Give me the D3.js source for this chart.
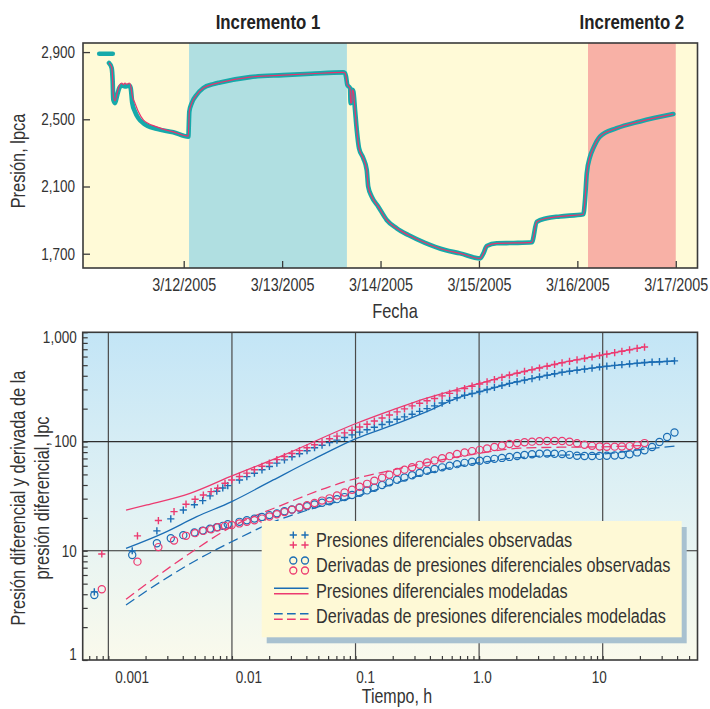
<!DOCTYPE html>
<html>
<head>
<meta charset="utf-8">
<script src="https://cdn.jsdelivr.net/npm/d3@7"></script>
<style>
  body { margin: 0; background: #fff; }
  svg text { font-family: "Liberation Sans", Arial, sans-serif; fill: #333; }
</style>
</head>
<body>
<div id="chart"></div>
<script>
// ---------- top chart: hours after 3/11/2005 00:00 vs pressure (lpca) ----------
var gaugeHours = [3.4, 6.7];
var gaugePsi = [2890, 2890];

var obsHours = [5.78, 6.44, 6.68, 6.83, 7.24, 7.8, 8.29, 8.88, 9.68, 10.73, 11.07, 11.46, 12.12, 12.93, 14.15, 17.41, 21.46, 25.12,
  25.37, 25.95, 27.17, 28.78, 31.22, 32.85, 40.17, 48.22, 55, 62.85, 63.34, 63.58, 63.9, 64.56, 64.7, 64.98, 65.1, 65.37,
  65.78, 66.2, 66.76, 67.8, 68.63, 69, 69.85, 71.46, 73.5, 75.95, 78.78, 82.85, 87.73, 91.4, 96.27, 97.1, 97.9, 100.34,
  104.5, 108.9, 110.1, 112.5, 115.8, 121.46, 121.87, 122.3, 123.1, 123.9, 125.5, 129.6, 135.3, 143.4];
var obsPsi = [2835, 2805, 2725, 2616, 2596, 2646, 2686, 2701, 2695, 2701, 2686, 2596, 2546, 2507, 2477, 2443, 2423, 2397,
  2546, 2596, 2646, 2686, 2709, 2719, 2751, 2763, 2771, 2779, 2775, 2755, 2705, 2686, 2596, 2600, 2675, 2665,
  2556, 2438, 2328, 2268, 2199, 2099, 2040, 1980, 1901, 1851, 1811, 1765, 1722, 1702, 1672, 1702, 1746, 1762,
  1764, 1768, 1890, 1911, 1922, 1935, 2020, 2179, 2278, 2328, 2397, 2447, 2487, 2531];

// model differs from the gauge only in the first drawdown
var modelHours = [5.78, 6.44, 6.68, 6.83, 7.24, 7.8, 8.29, 8.88, 9.3, 9.68, 10.1, 10.73, 11.07, 11.46, 12.12, 12.93, 14.15, 17.41, 21.46, 25.12];
var modelPsi = [2835, 2810, 2730, 2640, 2610, 2660, 2700, 2716, 2706, 2716, 2708, 2716, 2700, 2640, 2596, 2546, 2497, 2455, 2425, 2400];

var buildupNames = ["Incremento 1", "Incremento 2"];
var buildupStart = [25.3, 122.6];
var buildupEnd = [63.8, 144];

var dateTicks = ["2005-03-12", "2005-03-13", "2005-03-14", "2005-03-15", "2005-03-16", "2005-03-17"];
var psiTicks = [1700, 2100, 2500, 2900];

// ---------- bottom chart: time (h) vs differential pressure and derivative (lpc) ----------
// blue = Incremento 1, pink = Incremento 2
var t1 = [0.00077, 0.00156, 0.00247, 0.0032, 0.00404, 0.00497, 0.0058, 0.00665, 0.00754, 0.00843, 0.00925,
  0.0115, 0.0132, 0.0152, 0.0175, 0.0201, 0.0231, 0.0266, 0.0306, 0.0352, 0.0405, 0.0466, 0.0536, 0.0616, 0.0708, 0.0815,
  0.0937, 0.108, 0.124, 0.142, 0.164, 0.188, 0.217, 0.249, 0.287, 0.33, 0.379, 0.436, 0.502, 0.577, 0.663, 0.763, 0.877,
  1.01, 1.16, 1.33, 1.53, 1.76, 2.03, 2.33, 2.68, 3.08, 3.55, 4.08, 4.69, 5.39, 6.2, 7.13, 8.2, 9.43, 10.8, 12.5, 14.3,
  16.5, 19, 21.8, 25.1, 28.8, 33.2, 38.1];
var dp1 = [4.2, 10, 15.2, 19.6, 23.6, 26.4, 28.8, 31.8, 35.1, 37.6, 39.5,
  44.4, 47.7, 51.3, 55.1, 59.1, 63.5, 68, 72.5, 77.3, 82.3, 87.7, 92.5, 97.8, 103, 109,
  115, 122, 128, 135, 143, 151, 160, 168, 178, 189, 200, 212, 225, 238, 252, 265, 275,
  287, 299, 313, 326, 341, 353, 365, 377, 390, 404, 418, 431, 440, 450, 460, 470, 481, 490, 498, 506,
  514, 522, 529, 534, 538, 542, 547];
var der1 = [3.94, 9.16, 11.7, 13.0, 13.9, 14.7, 15.3, 15.9, 16.4, 16.9, 17.5,
  18.4, 19.0, 19.7, 20.4, 21.2, 22.0, 23.0, 23.9, 24.8, 25.6, 26.5, 27.5, 28.4, 29.7, 31.0,
  32.4, 33.9, 35.7, 37.8, 40.0, 42.3, 44.6, 46.8, 49.1, 51.6, 54.1, 56, 58, 60, 62.1, 63.8, 65.2,
  66.6, 68, 69.4, 70.8, 72.3, 73.8, 75.2, 76.6, 77.5, 77.6, 77.3, 76.7, 75.5, 74.2, 73.8, 73.8, 73.9, 74.1, 74.6, 75.2,
  76.5, 79.5, 83, 89, 99, 110, 121];

var t2 = [0.000885, 0.00172, 0.00254, 0.0034, 0.00425, 0.00503, 0.00587, 0.00678, 0.00767, 0.00879, 0.00996,
  0.0115, 0.0132, 0.0152, 0.0175, 0.0201, 0.0231, 0.0266, 0.0306, 0.0352, 0.0405, 0.0466, 0.0536, 0.0616, 0.0708, 0.0815,
  0.0937, 0.108, 0.124, 0.142, 0.164, 0.188, 0.217, 0.249, 0.287, 0.33, 0.379, 0.436, 0.502, 0.577, 0.663, 0.763, 0.877,
  1.01, 1.16, 1.33, 1.53, 1.76, 2.03, 2.33, 2.68, 3.08, 3.55, 4.08, 4.69, 5.39, 6.2, 7.13, 8.2, 9.43, 10.8, 12.5, 14.3,
  16.5, 19, 21.8];
var dp2 = [9.35, 13.7, 18.9, 22.8, 26.7, 29.6, 32.4, 34.8, 37.4, 41.5, 44.5,
  47.9, 51.4, 55.2, 59.3, 63.6, 68.3, 72.9, 77.6, 82.6, 87.7, 93.3, 99.3, 106, 112, 120,
  127, 136, 144, 154, 164, 175, 187, 199, 212, 224, 236, 248, 262, 276, 291, 306, 321,
  336, 352, 369, 387, 406, 422, 438, 454, 471, 489, 508, 526, 542, 559, 576, 595, 613, 631, 651, 670,
  691, 712, 733];
var der2 = [4.44, 7.95, 10.8, 12.4, 13.7, 14.5, 15.2, 15.7, 16.4, 16.9, 17.2,
  17.8, 18.4, 19.0, 19.7, 20.6, 21.6, 22.6, 23.8, 24.9, 26.1, 27.4, 28.8, 30.2, 32.1, 34.1,
  36.2, 38.5, 41, 43.7, 46.7, 49.7, 52.6, 55.3, 58.2, 61.2, 64.3, 67.1, 70.3, 73.5, 76.9, 79.4, 81.7,
  83.9, 86.5, 89.2, 92, 94.8, 96.8, 98.5, 99.8, 100.8, 101.2, 101.3, 101, 99.5, 96.5, 93.3, 91.3, 90.1, 89.7, 89.8, 90.1,
  90.8, 92.8, 96.8];

var tModel1 = [0.00139, 0.00279, 0.00519, 0.00996, 0.0216, 0.0456, 0.102, 0.202, 0.377, 0.7, 1, 1.78, 4.51, 10, 21.3, 38.5];
var dpModel1 = [10.5, 14.5, 20.5, 28.2, 44.5, 68.8, 107, 142, 188, 255, 284, 340, 426, 483, 526, 546];
var derModel1 = [3.19, 5.4, 8.24, 12.1, 18.3, 24.5, 31.5, 41, 51, 60, 64, 70, 75, 77, 85, 91];

var tModel2 = [0.00139, 0.00205, 0.00458, 0.00966, 0.0245, 0.102, 0.202, 0.377, 0.7, 1, 2.14, 4.51, 10, 21.3];
var dpModel2 = [23.6, 26.3, 33.6, 47.7, 72.8, 147, 196, 250, 305, 340, 430, 523, 622, 732];
var derModel2 = [3.6, 5.0, 9.5, 16.3, 25.8, 46.1, 55, 64, 73, 78, 86.9, 88.7, 89.5, 92];

var timeTicks = [0.001, 0.01, 0.1, 1, 10];
var timeLabels = ["0.001", "0.01", "0.1", "1.0", "10"];
var dpTicks = [1, 10, 100, 1000];

var legendLabels = ["Presiones diferenciales observadas", "Derivadas de presiones diferenciales observadas",
  "Presiones diferenciales modeladas", "Derivadas de presiones diferenciales modeladas"];

// ---------- styles ----------
const TEAL = "#16a9aa", MAGENTA = "#e8336e", BLUE = "#1b6db4", PINK = "#ec3a70";
const FRAME = "#3a3a3a";
const NARROW = 0.82; // the original uses a condensed face

const svg = d3.select("#chart").append("svg")
    .attr("width", 710)
    .attr("height", 709);

// ======================= top chart =======================
const p1 = {x0: 83, x1: 697.5, y0: 43, y1: 268};
const w1 = p1.x1 - p1.x0, h1 = p1.y1 - p1.y0;
const g1 = svg.append("g").attr("transform", `translate(${p1.x0},${p1.y0})`);

const hourToDate = h => new Date(Date.UTC(2005, 2, 11) + h * 3600000);

const xDate = d3.scaleUtc()
    .domain([hourToDate(-0.56), hourToDate(149.3)])
    .range([0, w1]);

const yPsi = d3.scaleLinear()
    .domain([1615, 2954])
    .range([h1, 0]);

g1.append("rect")
    .attr("width", w1)
    .attr("height", h1)
    .attr("fill", "#fffad7");

const bandColors = ["#b0dfe1", "#f8b1a6"];
g1.selectAll(".band")
    .data(buildupNames)
    .join("rect")
    .attr("class", "band")
    .attr("x", (d, i) => xDate(hourToDate(buildupStart[i])))
    .attr("width", (d, i) => xDate(hourToDate(buildupEnd[i])) - xDate(hourToDate(buildupStart[i])))
    .attr("height", h1)
    .attr("fill", (d, i) => bandColors[i]);

// band titles
svg.selectAll(".band-title")
    .data(buildupNames)
    .join("text")
    .attr("class", "band-title")
    .attr("x", (d, i) => p1.x0 + xDate(hourToDate((buildupStart[i] + buildupEnd[i]) / 2)))
    .attr("y", 29)
    .attr("text-anchor", "middle")
    .style("font-size", "20.5px")
    .style("font-weight", "bold")
    .style("fill", "#222")
    .text(d => d);

const pressureLine = d3.line()
    .x(d => xDate(hourToDate(d[0])))
    .y(d => yPsi(d[1]))
    .curve(d3.curveMonotoneX);

const obsPoints = d3.zip(obsHours, obsPsi);
const modelPoints = d3.zip(modelHours, modelPsi)
    .concat(obsPoints.filter(d => d[0] > modelHours[modelHours.length - 1]));

[d3.zip(gaugeHours, gaugePsi), obsPoints].forEach(function(pts) {
    g1.append("path")
        .attr("d", pressureLine(pts))
        .attr("fill", "none")
        .attr("stroke", TEAL)
        .attr("stroke-width", 4.6)
        .attr("stroke-linecap", "round")
        .attr("stroke-linejoin", "round");
});

g1.append("path")
    .attr("d", pressureLine(modelPoints))
    .attr("fill", "none")
    .attr("stroke", MAGENTA)
    .attr("stroke-width", 1.2);

// axes
const xAxis1 = d3.axisBottom(xDate)
    .tickValues(dateTicks.map(s => new Date(s + "T00:00:00Z")))
    .tickSize(-7)
    .tickPadding(10.5)
    .tickFormat(d3.utcFormat("%-m/%-d/%Y"));

g1.append("g")
    .attr("transform", `translate(0,${h1})`)
    .call(xAxis1)
    .call(g => g.select(".domain").remove())
    .call(g => g.selectAll("line").attr("stroke", FRAME).attr("stroke-width", 1.3))
    .call(g => g.selectAll("text").style("font-size", "17.5px"));

const yAxis1 = d3.axisLeft(yPsi)
    .tickValues(psiTicks)
    .tickSize(-7)
    .tickPadding(8)
    .tickFormat(d3.format(","));

g1.append("g")
    .call(yAxis1)
    .call(g => g.select(".domain").remove())
    .call(g => g.selectAll("line").attr("stroke", FRAME).attr("stroke-width", 1.3))
    .call(g => g.selectAll("text").style("font-size", "16.5px"));

g1.append("rect")
    .attr("width", w1)
    .attr("height", h1)
    .attr("fill", "none")
    .attr("stroke", FRAME)
    .attr("stroke-width", 1.6);

svg.append("text")
    .attr("x", 395)
    .attr("y", 318)
    .attr("text-anchor", "middle")
    .style("font-size", "20px")
    .text("Fecha");

svg.append("text")
    .attr("transform", "translate(0,161) rotate(-90)")
    .attr("y", 25)
    .attr("text-anchor", "middle")
    .style("font-size", "20px")
    .text("Presión, lpca");

// ======================= bottom chart =======================
const p2 = {x0: 82.7, x1: 697.5, y0: 332.3, y1: 660};
const w2 = p2.x1 - p2.x0, h2 = p2.y1 - p2.y0;
const g2 = svg.append("g").attr("transform", `translate(${p2.x0},${p2.y0})`);

const xTime = d3.scaleLog()
    .domain([0.00062, 58.5])
    .range([0, w2]);

const yDp = d3.scaleLog()
    .domain([1, 1000])
    .range([h2, 0]);

// the printed labels sit on a slightly different spacing than the grid
const xLabel = d3.scaleLog()
    .domain([0.001, 10])
    .range([49, 516]);

const grad = svg.append("defs").append("linearGradient")
    .attr("id", "bg")
    .attr("x1", 0).attr("y1", 0).attr("x2", 0).attr("y2", 1);
grad.append("stop").attr("offset", 0).attr("stop-color", "#c3e5f6");
grad.append("stop").attr("offset", 0.55).attr("stop-color", "#e2f2f4");
grad.append("stop").attr("offset", 1).attr("stop-color", "#fafaec");

g2.append("rect")
    .attr("width", w2)
    .attr("height", h2)
    .attr("fill", "url(#bg)");

// grid
g2.selectAll(".vgrid")
    .data(timeTicks)
    .join("line")
    .attr("class", "vgrid")
    .attr("x1", d => xTime(d)).attr("x2", d => xTime(d))
    .attr("y1", 0).attr("y2", h2)
    .attr("stroke", "#4a4a4a")
    .attr("stroke-width", 1.2);

g2.selectAll(".hgrid")
    .data(dpTicks.slice(1, 3))
    .join("line")
    .attr("class", "hgrid")
    .attr("y1", d => yDp(d)).attr("y2", d => yDp(d))
    .attr("x1", 0).attr("x2", w2)
    .attr("stroke", "#2e2e2e")
    .attr("stroke-width", 1.2);

// minor ticks
g2.append("g")
    .attr("transform", `translate(0,${h2})`)
    .call(d3.axisBottom(xTime).tickValues(xTime.ticks()).tickSize(-4).tickFormat(""))
    .call(g => g.select(".domain").remove())
    .call(g => g.selectAll("line").attr("stroke", FRAME).attr("stroke-width", 1.2));

g2.append("g")
    .call(d3.axisLeft(yDp).tickValues(yDp.ticks()).tickSize(-5).tickFormat(""))
    .call(g => g.select(".domain").remove())
    .call(g => g.selectAll("line").attr("stroke", FRAME).attr("stroke-width", 1.2));

// tick labels
g2.append("g")
    .attr("transform", `translate(0,${h2})`)
    .call(d3.axisBottom(xLabel).tickValues(timeTicks).tickSize(0).tickPadding(11)
        .tickFormat((d, i) => timeLabels[i]))
    .call(g => g.select(".domain").remove())
    .call(g => g.selectAll("text").style("font-size", "16.5px"));

g2.append("g")
    .call(d3.axisLeft(yDp).tickValues(dpTicks).tickSize(0).tickPadding(6).tickFormat(d3.format(",")))
    .call(g => g.select(".domain").remove())
    .call(g => g.selectAll("text")
        .attr("y", d => d === 1 ? -6 : d === 1000 ? 5 : 0)
        .style("font-size", "16.5px"));

// model curves
const dpLine = d3.line()
    .x(d => xTime(d[0]))
    .y(d => yDp(d[1]))
    .curve(d3.curveMonotoneX);

const modelSeries = [
    {pts: d3.zip(tModel1, dpModel1), color: BLUE, dash: null},
    {pts: d3.zip(tModel2, dpModel2), color: PINK, dash: null},
    {pts: d3.zip(tModel1, derModel1), color: BLUE, dash: "10,5"},
    {pts: d3.zip(tModel2, derModel2), color: PINK, dash: "10,5"}
];

g2.selectAll(".model")
    .data(modelSeries)
    .join("path")
    .attr("class", "model")
    .attr("d", d => dpLine(d.pts))
    .attr("fill", "none")
    .attr("stroke", d => d.color)
    .attr("stroke-width", 1.3)
    .attr("stroke-dasharray", d => d.dash);

// observed markers
const plusPath = "M-3.6,0H3.6M0,-3.6V3.6";

function drawCircles(t, v, color) {
    g2.append("g")
        .selectAll("circle")
        .data(d3.zip(t, v))
        .join("circle")
        .attr("cx", d => xTime(d[0]))
        .attr("cy", d => yDp(d[1]))
        .attr("r", 3.6)
        .attr("fill", "none")
        .attr("stroke", color)
        .attr("stroke-width", 1.2);
}

function drawPluses(t, v, color) {
    g2.append("g")
        .selectAll("path")
        .data(d3.zip(t, v))
        .join("path")
        .attr("transform", d => `translate(${xTime(d[0])},${yDp(d[1])})`)
        .attr("d", plusPath)
        .attr("fill", "none")
        .attr("stroke", color)
        .attr("stroke-width", 1.4);
}

drawCircles(t1, der1, BLUE);
drawCircles(t2, der2, PINK);
drawPluses(t1, dp1, BLUE);
drawPluses(t2, dp2, PINK);

g2.append("rect")
    .attr("width", w2)
    .attr("height", h2)
    .attr("fill", "none")
    .attr("stroke", FRAME)
    .attr("stroke-width", 1.6);

// legend
const lg = {x: 261.7, y: 521, w: 420, h: 116.3};
svg.append("rect")
    .attr("x", lg.x + 5).attr("y", lg.y + 6)
    .attr("width", lg.w).attr("height", lg.h)
    .attr("fill", "#a8c1d0");
svg.append("rect")
    .attr("x", lg.x).attr("y", lg.y)
    .attr("width", lg.w).attr("height", lg.h)
    .attr("fill", "#fef9d6");

const rowY = i => 540 + i * 25.5;
const legend = svg.append("g");

legendLabels.forEach(function(label, i) {
    const cy = rowY(i);
    legend.append("text")
        .attr("x", 316)
        .attr("y", cy + 6.8)
        .style("font-size", "19.8px")
        .text(label);

    [[BLUE, -5], [PINK, 5]].forEach(function(s) {
        const yy = cy + s[1];
        if (i === 0 || i === 1) {
            [293.3, 305].forEach(function(mx) {
                if (i === 0) {
                    legend.append("path")
                        .attr("transform", `translate(${mx},${yy})`)
                        .attr("d", plusPath)
                        .attr("stroke", s[0])
                        .attr("stroke-width", 1.4);
                } else {
                    legend.append("circle")
                        .attr("cx", mx).attr("cy", yy).attr("r", 3.5)
                        .attr("fill", "none")
                        .attr("stroke", s[0])
                        .attr("stroke-width", 1.3);
                }
            });
        } else {
            legend.append("line")
                .attr("x1", 274).attr("x2", 308.5)
                .attr("y1", cy + s[1] * 0.55).attr("y2", cy + s[1] * 0.55)
                .attr("stroke", s[0])
                .attr("stroke-width", 1.6)
                .attr("stroke-dasharray", i === 3 ? "8.7,4.3" : null);
        }
    });
});

// axis titles
svg.append("text")
    .attr("x", 397)
    .attr("y", 703)
    .attr("text-anchor", "middle")
    .style("font-size", "19.5px")
    .text("Tiempo, h");

const yTitle = svg.append("text")
    .attr("transform", "translate(0,498) rotate(-90)")
    .attr("text-anchor", "middle")
    .style("font-size", "20px");
yTitle.append("tspan").attr("x", 0).attr("y", 25).text("Presión diferencial y derivada de la");
yTitle.append("tspan").attr("x", 0).attr("y", 49).text("presión diferencial, lpc");

// squeeze every label horizontally about its anchor to imitate the condensed typeface
svg.selectAll("text").each(function() {
    const el = d3.select(this);
    const ax = +el.attr("x") || 0;
    const base = el.attr("transform") || "";
    el.attr("transform", `${base} translate(${ax},0) scale(${NARROW},1) translate(${-ax},0)`);
});
</script>
</body>
</html>
